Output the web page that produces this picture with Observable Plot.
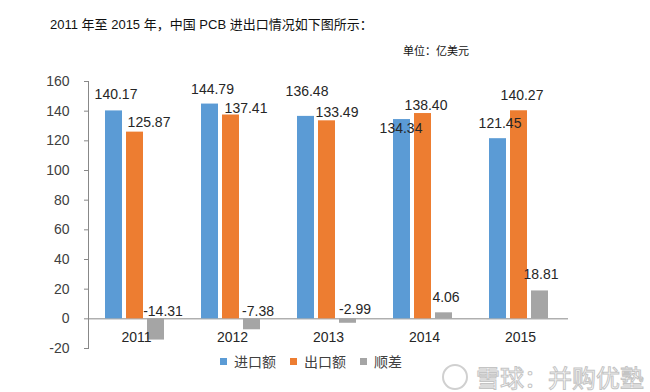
<!DOCTYPE html>
<html><head><meta charset="utf-8">
<script src="https://cdn.jsdelivr.net/npm/d3@7"></script>
<script src="https://cdn.jsdelivr.net/npm/@observablehq/plot@0.6"></script>
<style>
body{margin:0;width:650px;height:392px;overflow:hidden;background:#fff;font-family:"Liberation Sans","Noto Sans CJK SC",sans-serif;position:relative}
#head{position:relative;height:62px}
#title{position:absolute;left:50px;top:14px;font-size:13px;color:#111;white-space:nowrap}
#unit{position:absolute;left:403px;top:42px;font-size:11px;color:#111;white-space:nowrap}
#chart svg{display:block}
#legend{padding-left:220px;height:18px;margin-top:-4px}
.lg-swatches{min-height:0 !important;margin:0 !important}
#wm{position:absolute;left:442px;top:363px;white-space:nowrap;display:flex;align-items:center;height:27px}
#wm .logo{width:26px;height:26px;border:2px solid #d0d0d0;border-radius:50%;margin-right:8px;box-sizing:border-box}
#wm .t{font-size:24px;line-height:26px;color:#fff;-webkit-text-stroke:1px #c4c4c4;font-family:"Noto Sans CJK SC",sans-serif}
</style></head>
<body>
<div id="head"><span id="title">2011 年至 2015 年，中国 PCB 进出口情况如下图所示：</span><span id="unit">单位：亿美元</span></div>
<div id="chart"></div>
<div id="legend"></div>
<div id="wm"><span class="logo"></span><span class="t">雪球：并购优塾</span></div>
<script>
const years = ["2011", "2012", "2013", "2014", "2015"];
const series = ["进口额", "出口额", "顺差"];
const imports = [140.17, 144.79, 136.48, 134.34, 121.45];
const exportsV = [125.87, 137.41, 133.49, 138.40, 140.27];
const balance = [-14.31, -7.38, -2.99, 4.06, 18.81];
const yTicks = [-20, 0, 20, 40, 60, 80, 100, 120, 140, 160];
const colors = ["#5B9BD5", "#ED7D31", "#A5A5A5"];

const rows = years.flatMap((y, i) =>
  [imports[i], exportsV[i], balance[i]].map((v, j) => ({year: y, series: series[j], value: v, si: j, yi: i})));

// bar placement within each year band
const barDx = [-22.5, -1.5, 19.5];
const inset = 39.5;
// label nudges (px) relative to bar centre / bar end, as in the reference
const nudge = [
  [[2, -16], [2.5, -15], [1, -25], [-1, 9], [2, -15]],
  [[14, -10], [15, -6], [10, -8], [3, -8], [3, -15]],
  [[7, -7], [6, -7], [7, -9], [2, -15], [1, -16]]
];

const marks = [
  Plot.axisY({ticks: yTicks, label: null, tickSize: 4, tickPadding: 15, tickFormat: d => String(d), stroke: "#888", fill: "#404040", fontSize: 14}),
  Plot.frame({anchor: "left", stroke: "#888"}),
  Plot.ruleY([0], {stroke: "#888"})
];
series.forEach((s, k) => {
  marks.push(Plot.barY(rows.filter(d => d.si === k), {x: "year", y: "value", fill: colors[k], dx: barDx[k], insetLeft: inset, insetRight: inset}));
});
rows.forEach(d => {
  const n = nudge[d.si][d.yi];
  marks.push(Plot.text([d], {x: "year", y: r => Math.max(0, r.value), text: r => r.value.toFixed(2), dx: barDx[d.si] + n[0], dy: n[1], fontSize: 14, fill: "#262626"}));
});
marks.push(Plot.text(years, {x: d => d, y: () => 0, text: d => d, dy: 19, fontSize: 14, fill: "#262626"}));

const chart = Plot.plot({
  width: 650, height: 293,
  marginTop: 19, marginBottom: 7, marginLeft: 88, marginRight: 82,
  style: {fontFamily: "Liberation Sans, Noto Sans CJK SC, sans-serif", fontSize: "14px", color: "#404040", background: "#fff"},
  x: {domain: years, padding: 0, axis: null},
  y: {domain: [-20, 160], axis: null},
  marks
});
document.getElementById("chart").appendChild(chart);

const lg = Plot.legend({
  color: {type: "ordinal", domain: series, range: colors},
  swatchSize: 7,
  className: "lg",
  style: {fontFamily: "Liberation Sans, Noto Sans CJK SC, sans-serif", fontSize: "14px", color: "#404040"}
});
document.getElementById("legend").appendChild(lg);
</script>
</body></html>
